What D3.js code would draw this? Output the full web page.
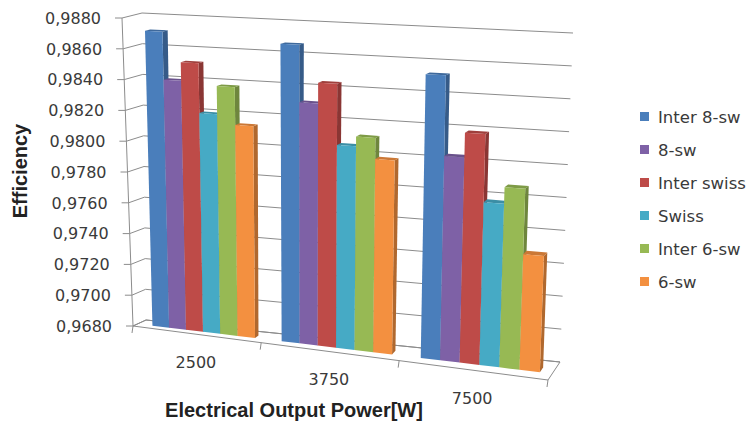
<!DOCTYPE html>
<html>
<head>
<meta charset="utf-8">
<script src="https://cdn.jsdelivr.net/npm/d3@7"></script>
<style>
  body { margin: 0; background: #fff; }
  svg { display: block; }
</style>
</head>
<body>
<svg id="chart" width="751" height="423"></svg>
<script>
// categories along the floor
const categories = ["2500", "3750", "7500"];
const seriesNames = ["Inter 8-sw", "8-sw", "Inter swiss", "Swiss", "Inter 6-sw", "6-sw"];
const seriesColors = ["#4a7ebb", "#7e61a6", "#be4b48", "#46aac5", "#97b954", "#f39040"];

// efficiency, one value per category
const inter8sw   = [0.9871, 0.9867, 0.9853];
const sw8        = [0.9840, 0.9831, 0.9804];
const interSwiss = [0.9852, 0.9844, 0.9819];
const swiss      = [0.9820, 0.9806, 0.9778];
const inter6sw   = [0.9838, 0.9812, 0.9788];
const sw6        = [0.9814, 0.9799, 0.9749];
const seriesValues = [inter8sw, sw8, interSwiss, swiss, inter6sw, sw6];

const yTicks = [0.9680, 0.9700, 0.9720, 0.9740, 0.9760, 0.9780, 0.9800, 0.9820, 0.9840, 0.9860, 0.9880];

// 3d box: front plane and back plane corners (left/right, top/bottom)
const frame = {
    front: {lt: [122, 18], lb: [133, 326], rt: [560, 38], rb: [548, 380]},
    back:  {lt: [142, 13], lb: [146, 320], rt: [573, 33], rb: [560, 362]}
};
const persp = 0.894;   // foreshortening along the category axis
const barZ0 = 0.35, barZ1 = 0.62;

function lerp(a, b, t) {
    return [a[0] + (b[0] - a[0]) * t, a[1] + (b[1] - a[1]) * t];
}
function warp(u) {
    return u * persp / (1 + (persp - 1) * u);
}
// u: along categories 0..1, v: value 0..1, w: depth 0..1
function pt(u, v, w) {
    let s = warp(u);
    let f = lerp(lerp(frame.front.lb, frame.front.rb, s), lerp(frame.front.lt, frame.front.rt, s), v);
    let b = lerp(lerp(frame.back.lb, frame.back.rb, s), lerp(frame.back.lt, frame.back.rt, s), v);
    return lerp(f, b, w);
}

let svg = d3.select("#chart");

let x = d3.scaleBand().domain(categories).range([0, 1]);
let xs = d3.scaleBand().domain(seriesNames).range([0.12, 0.92]);
let y = d3.scaleLinear().domain([yTicks[0], yTicks[yTicks.length - 1]]).range([0, 1]);
let color = d3.scaleOrdinal().domain(seriesNames).range(seriesColors);

let fmt = d3.formatLocale({decimal: ",", thousands: ".", grouping: [3], currency: ["", ""]}).format(".4f");
let poly = pts => d3.line()(pts) + "Z";
let gridColor = "#8c8c8c";

// floor
svg.append("path")
    .attr("d", poly([pt(0, 0, 0), pt(1, 0, 0), pt(1, 0, 1), pt(0, 0, 1)]))
    .style("fill", "#fff")
    .style("stroke", gridColor);

// gridlines: side wall + back wall
let grid = svg.append("g");
yTicks.forEach(function(t) {
    let v = y(t);
    grid.append("path")
        .attr("d", d3.line()([pt(0, v, 0), pt(0, v, 1), pt(1, v, 1)]))
        .style("fill", "none")
        .style("stroke", gridColor);
});

// value axis at front-left
svg.append("path")
    .attr("d", d3.line()([pt(0, 0, 0), pt(0, 1, 0)]))
    .style("stroke", gridColor);

let yAxis = svg.append("g");
yTicks.forEach(function(t) {
    let p = pt(0, y(t), 0);
    yAxis.append("line")
        .attr("x1", p[0] - 7).attr("x2", p[0])
        .attr("y1", p[1]).attr("y2", p[1])
        .style("stroke", gridColor);
    yAxis.append("text")
        .attr("x", p[0] - 21)
        .attr("y", p[1])
        .attr("dy", "0.36em")
        .attr("text-anchor", "end")
        .style("font-family", "DejaVu Sans")
        .style("font-size", "16px")
        .style("fill", "#3a3a3a")
        .text(fmt(t));
});

// category ticks and labels on the floor's front edge
let xAxis = svg.append("g");
[0, 1, 2, 3].forEach(function(i) {
    let p = pt(i / categories.length, 0, 0);
    xAxis.append("line")
        .attr("x1", p[0]).attr("x2", p[0] - 1)
        .attr("y1", p[1]).attr("y2", p[1] + 7)
        .style("stroke", gridColor);
});
categories.forEach(function(c) {
    let p = pt(x(c) + x.bandwidth() / 2, 0, 0);
    xAxis.append("text")
        .attr("x", p[0])
        .attr("y", p[1] + 28)
        .attr("dy", "0.36em")
        .attr("text-anchor", "middle")
        .style("font-family", "DejaVu Sans")
        .style("font-size", "16px")
        .style("fill", "#3a3a3a")
        .text(c);
});

// bars, left to right so each front face hides the previous side face
let bars = [];
categories.forEach(function(c, ci) {
    seriesNames.forEach(function(name, si) {
        bars.push({cat: c, name: name, value: seriesValues[si][ci]});
    });
});

let barG = svg.selectAll(".bar")
    .data(bars)
    .enter().append("g")
    .attr("class", "bar");

barG.each(function(d) {
    let g = d3.select(this);
    let u0 = x(d.cat) + xs(d.name) * x.bandwidth();
    let u1 = u0 + xs.bandwidth() * x.bandwidth();
    let v1 = y(d.value);
    let c = d3.color(color(d.name));
    g.append("path")
        .attr("d", poly([pt(u1, 0, barZ0), pt(u1, 0, barZ1), pt(u1, v1, barZ1), pt(u1, v1, barZ0)]))
        .style("fill", c.darker(0.9));
    g.append("path")
        .attr("d", poly([pt(u0, v1, barZ0), pt(u1, v1, barZ0), pt(u1, v1, barZ1), pt(u0, v1, barZ1)]))
        .style("fill", c.darker(0.5));
    g.append("path")
        .attr("d", poly([pt(u0, 0, barZ0), pt(u1, 0, barZ0), pt(u1, v1, barZ0), pt(u0, v1, barZ0)]))
        .style("fill", c);
});

// legend
let legend = svg.selectAll(".legend_item")
    .data(seriesNames)
    .enter().append("g")
    .attr("class", "legend_item")
    .attr("transform", function(d, i) {
        return "translate(640," + (117 + i * 33) + ")";
    });
legend.append("rect")
    .attr("x", 0).attr("y", -5)
    .attr("width", 9).attr("height", 9)
    .style("fill", d => color(d));
legend.append("text")
    .attr("x", 18)
    .attr("dy", "0.36em")
    .style("font-family", "DejaVu Sans")
    .style("font-size", "16.5px")
    .style("fill", "#3a3a3a")
    .text(d => d);

// axis titles
svg.append("text")
    .attr("transform", "translate(27,171) rotate(-90)")
    .attr("text-anchor", "middle")
    .style("font-family", "Liberation Sans, Arial")
    .style("font-weight", "bold")
    .style("font-size", "20px")
    .style("fill", "#222")
    .text("Efficiency");

svg.append("text")
    .attr("x", 294)
    .attr("y", 417)
    .attr("text-anchor", "middle")
    .style("font-family", "Liberation Sans, Arial")
    .style("font-weight", "bold")
    .style("font-size", "20px")
    .style("fill", "#222")
    .text("Electrical Output Power[W]");
</script>
</body>
</html>
